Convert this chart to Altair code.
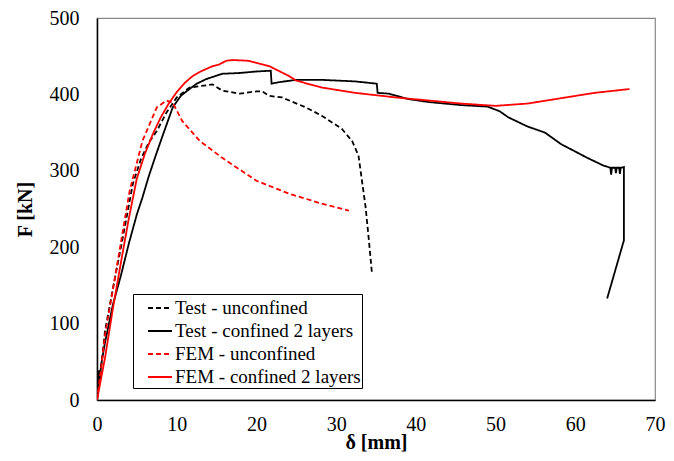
import altair as alt
import pandas as pd

series_names = ["Test - unconfined", "Test - confined 2 layers", "FEM - unconfined", "FEM - confined 2 layers"]
series_colors = ["black", "black", "red", "red"]
series_dash = [[5, 3], [1, 0], [5, 3], [1, 0]]

test_unconf_x = [0, 0.2, 0.3, 0.4, 0.6, 1, 2.2, 3.1, 4.5, 5.5, 6.5, 7.5, 8.7, 10, 11.6, 13, 14.5, 15.7, 17.9, 20, 20.7, 21.6, 23.2, 26.2, 28.2, 30.7, 32, 32.8, 33.2, 33.7, 34.1, 34.5]
test_unconf_y = [0, 20, 40, 30, 50, 90, 157, 205, 283, 315, 337, 352, 376, 396, 409, 411, 413, 405, 401, 404, 404, 398, 396, 383, 372, 355, 339, 320, 290, 252, 210, 165]

test_conf_x = [0, 0.25, 0.35, 0.5, 1, 2, 3, 4, 5, 5.7, 6.5, 7.3, 8.2, 9.5, 10.5, 11.6, 12.5, 13.7, 15.7, 17.9, 20, 21.8, 21.9, 22.8, 25, 28.2, 32.4, 35.1, 35.2, 36.6, 39, 41.6, 45.7, 49, 50.5, 51.6, 54, 56.2, 58.2, 61.5, 63.5, 64.4, 64.5, 64.6, 65.0, 65.1, 65.2, 65.5, 65.6, 65.7, 66.1, 66.1, 64.0]
test_conf_y = [0, 39, 25, 45, 75, 125, 163, 205, 243, 265, 293, 318, 345, 383, 398, 407, 414, 420, 427, 428, 430, 431, 414, 416, 419, 419, 417, 414, 402, 401, 394, 390, 386, 384, 378, 370, 358, 350, 335, 317, 307, 304, 295, 304, 304, 297, 304, 304, 296, 304, 305, 209, 133]

fem_unconf_x = [0, 0.5, 1, 2.2, 4.1, 5.7, 7.5, 8.7, 9.5, 10.7, 12.9, 15.7, 20, 24.1, 28.2, 31.6]
fem_unconf_y = [0, 40, 85, 157, 274, 339, 383, 392, 389, 365, 339, 317, 287, 270, 257, 248]

fem_conf_x = [0, 1, 2, 3, 4, 5, 6, 7, 8, 9, 10, 11, 12, 13, 14.5, 15.3, 16.2, 17, 19, 21.6, 24.1, 25, 28.2, 32.4, 37.5, 45.7, 50, 54, 58.2, 62.4, 66.8]
fem_conf_y = [0, 55, 120, 180, 238, 290, 322, 348, 370, 388, 403, 415, 424, 430, 437, 439, 444, 445, 444, 437, 424, 418, 409, 402, 396, 388, 385, 388, 395, 402, 407]

all_x = [test_unconf_x, test_conf_x, fem_unconf_x, fem_conf_x]
all_y = [test_unconf_y, test_conf_y, fem_unconf_y, fem_conf_y]

rows = []
for name, xs, ys in zip(series_names, all_x, all_y):
    for i, (xv, yv) in enumerate(zip(xs, ys)):
        rows.append({"series": name, "d": xv, "F": yv, "idx": i})
df = pd.DataFrame(rows)

base = alt.Chart(df)

legend = alt.Legend(
    title=None, orient="none", legendX=36, legendY=276,
    symbolType="stroke", symbolSize=576, symbolStrokeWidth=1.5, symbolOffset=13,
    labelFont="Liberation Serif", labelFontSize=19, labelColor="black",
    labelExpr="datum.label + '\u00a0\u00a0\u00a0'",
    strokeColor="black", fillColor="white", padding=1, rowPadding=-1.3,
    labelOffset=2, labelLimit=400, cornerRadius=0,
)

lines = base.mark_line(clip=True).encode(
    x=alt.X("d:Q", scale=alt.Scale(domain=[0, 70], nice=False),
            axis=alt.Axis(title="δ [mm]", values=list(range(0, 71, 10)), grid=False, ticks=False,
                          labelFlush=False, labelPadding=14, titlePadding=-2)),
    y=alt.Y("F:Q", scale=alt.Scale(domain=[0, 500], nice=False),
            axis=alt.Axis(title="F [kN]", values=list(range(0, 501, 100)), grid=False, ticks=False,
                          labelFlush=False, labelPadding=18, titlePadding=14)),
    color=alt.Color("series:N", scale=alt.Scale(domain=series_names, range=series_colors), legend=legend),
    strokeDash=alt.StrokeDash("series:N", scale=alt.Scale(domain=series_names, range=series_dash), legend=legend),
    strokeWidth=alt.StrokeWidth("series:N", scale=alt.Scale(domain=series_names, range=[1.8, 1.8, 1.4, 1.4]), legend=None),
    order="idx:Q",
    detail="series:N",
)

chart = lines.properties(
    width=558, height=382,
    background="white",
    autosize=alt.AutoSizeParams(type="none"),
    padding={"left": 89, "top": 10, "right": 11, "bottom": 53},
).configure_view(
    stroke="#888888", strokeWidth=1.2
).configure_axis(
    labelFont="Liberation Serif", labelFontSize=20, labelColor="black",
    titleFont="Liberation Serif", titleFontSize=20, titleFontWeight="bold", titleColor="black",
    domainColor="black", domainWidth=1.5,
)

chart.save("out.html", embed_options={"renderer": "svg", "actions": False})
